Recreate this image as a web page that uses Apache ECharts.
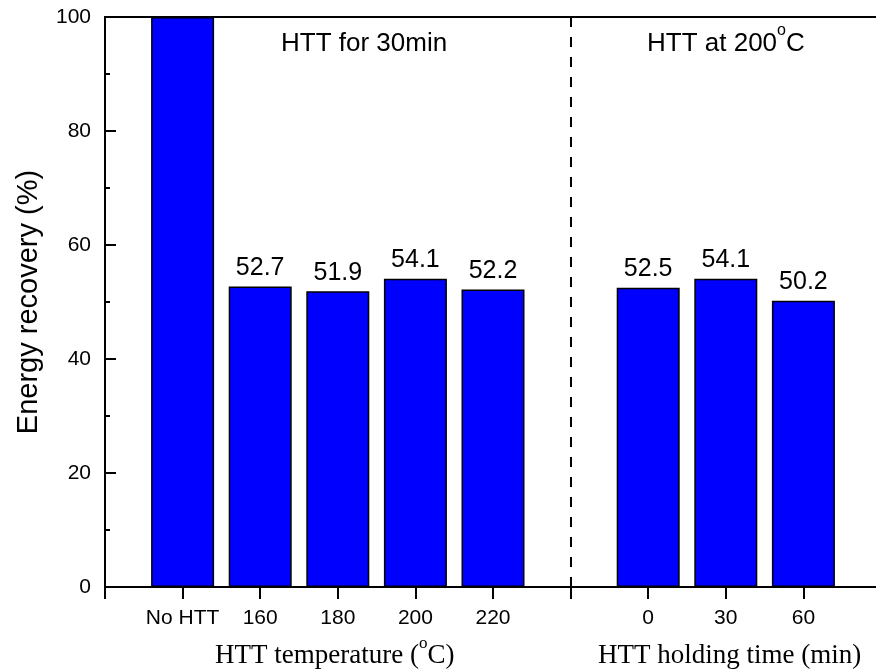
<!DOCTYPE html>
<html><head><meta charset="utf-8">
<script src="https://cdn.jsdelivr.net/npm/echarts@6/dist/echarts.min.js"></script>
<style>html,body{margin:0;padding:0;background:#fff}#c{width:876px;height:672px}</style>
</head><body><div id="c"></div>
<script>
// Data
var tempCategories = ['No HTT', '160', '180', '200', '220'];
var tempValues = [100, 52.7, 51.9, 54.1, 52.2];
var timeCategories = ['0', '30', '60'];
var timeValues = [52.5, 54.1, 50.2];
var yTicks = [0, 20, 40, 60, 80, 100];

// Build axis: leading blank, temps, separator blank, times, trailing blank
var categories = [''].concat(tempCategories, ['sep'], timeCategories, ['']);
var values = [null].concat(tempValues, [null], timeValues, [null]);
var sepIndex = 1 + tempCategories.length;

var barData = values.map(function (v) {
  if (v === null) return null;
  return { value: v, label: { show: v < 100 } };
});

var FONT = 'Arial, "Liberation Sans", sans-serif';
var SERIF = '"Times New Roman", "Liberation Serif", serif';

var chart = echarts.init(document.getElementById('c'), null, { renderer: 'canvas' });
chart.setOption({
  animation: false,
  backgroundColor: '#fff',
  grid: { left: 105, top: 17, width: 776, height: 570, show: true, borderColor: '#000', borderWidth: 2,
          containLabel: false, outerBoundsMode: 'none' },
  xAxis: {
    type: 'category',
    data: categories,
    boundaryGap: false,
    axisLine: { lineStyle: { color: '#000', width: 2 } },
    axisTick: { show: true, length: 12, inside: false, lineStyle: { color: '#000', width: 2 }, interval: 0 },
    axisLabel: {
      interval: 0, margin: 21, color: '#000', fontSize: 21, fontFamily: FONT,
      formatter: function (v) { return (v === 'sep') ? '' : v; }
    },
    splitLine: { show: false }
  },
  yAxis: {
    type: 'value',
    min: yTicks[0], max: yTicks[yTicks.length - 1], interval: 20,
    name: 'Energy recovery (%)',
    nameLocation: 'middle',
    nameGap: 62,
    nameTextStyle: { color: '#000', fontSize: 29, fontFamily: FONT },
    axisLine: { show: true, lineStyle: { color: '#000', width: 2 } },
    axisTick: { show: true, inside: true, length: 11, lineStyle: { color: '#000', width: 2 } },
    minorTick: { show: true, splitNumber: 2, length: 5, lineStyle: { color: '#000', width: 2 } },
    axisLabel: { margin: 14, color: '#000', fontSize: 21, fontFamily: FONT },
    splitLine: { show: false }
  },
  series: [{
    type: 'bar',
    data: barData,
    barWidth: 63,
    itemStyle: { color: '#0000FF', borderColor: '#000', borderWidth: 1.5 },
    label: {
      show: true, position: 'top', distance: 6,
      color: '#000', fontSize: 25, fontFamily: FONT,
      formatter: function (p) { return p.value.toFixed(1); }
    },
    markLine: {
      silent: true, symbol: 'none', label: { show: false },
      lineStyle: { color: '#000', type: [10, 10], width: 2 },
      data: [{ xAxis: sepIndex }]
    }
  }],
  graphic: [
    { type: 'text', left: 281, top: 31, style: { text: 'HTT for 30min', fill: '#000', font: '26px ' + FONT } },
    { type: 'text', left: 647, top: 23, style: {
        rich: {
          a: { fontSize: 26, fontFamily: FONT, fill: '#000', lineHeight: 34, verticalAlign: 'bottom' },
          s: { fontSize: 16, fontFamily: FONT, fill: '#000', lineHeight: 34, verticalAlign: 'top' }
        },
        text: '{a|HTT at 200}{s|o}{a|C}' } },
    { type: 'text', left: 215, top: 635, style: {
        rich: {
          a: { fontSize: 27, fontFamily: SERIF, fill: '#000', lineHeight: 34, verticalAlign: 'bottom' },
          s: { fontSize: 17, fontFamily: SERIF, fill: '#000', lineHeight: 34, verticalAlign: 'top' }
        },
        text: '{a|HTT temperature (}{s|o}{a|C)}' } },
    { type: 'text', left: 598, top: 635, style: {
        rich: {
          a: { fontSize: 27, fontFamily: SERIF, fill: '#000', lineHeight: 34, verticalAlign: 'bottom' },
          s: { fontSize: 17, fontFamily: SERIF, fill: '#000', lineHeight: 34, verticalAlign: 'top' }
        },
        text: '{a|HTT holding time (min)}{s|}' } }
  ]
});
</script></body></html>
